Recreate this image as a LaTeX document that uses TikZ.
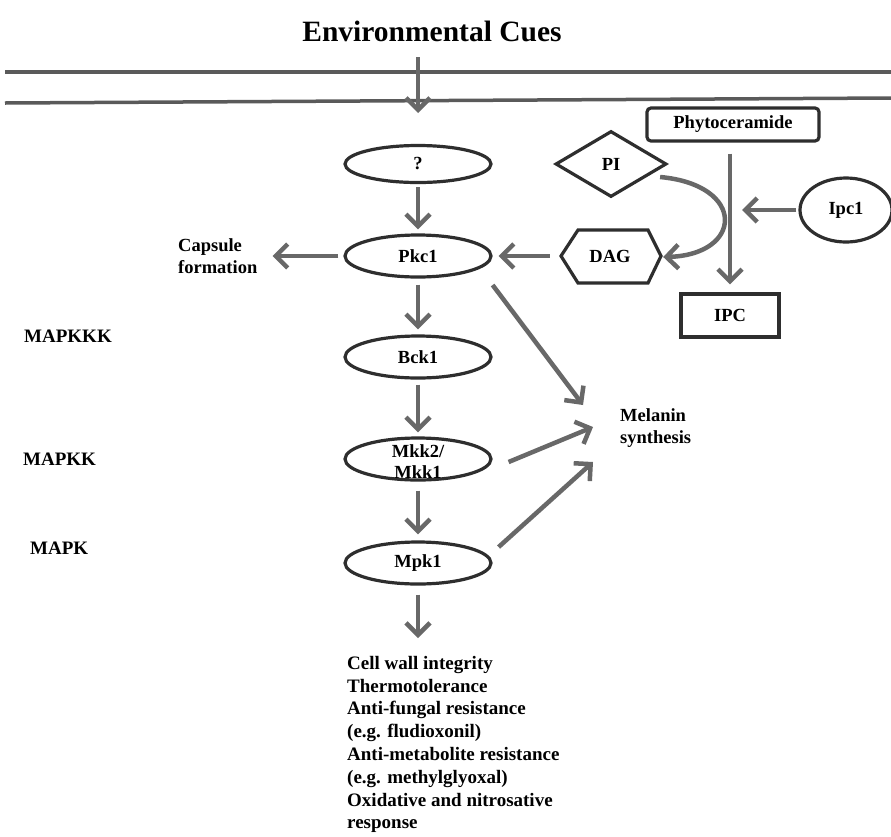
\documentclass[tikz,border=0pt]{standalone}
\usepackage{fontspec}
\setmainfont{Liberation Serif}
\usetikzlibrary{shapes.geometric,arrows.meta,calc}
\definecolor{arrgray}{HTML}{686868}
\definecolor{outl}{HTML}{2E2E2E}
\definecolor{memb}{HTML}{5A5A5A}
\begin{document}
\begin{tikzpicture}[x=1pt,y=-1pt,
  arr/.style={draw=arrgray, line width=4.5pt, -{Straight Barb[length=12pt,width=24pt]}},
  nfont/.style={font=\fontsize{18.5}{21}\selectfont\bfseries},
  ell/.style={ellipse, draw=outl, line width=3.2pt, minimum width=146pt, minimum height=42pt, inner sep=0pt, nfont},
  boxn/.style={rectangle, draw=outl, line width=3.2pt, inner sep=0pt, nfont},
  lbl/.style={inner sep=0pt, anchor=west, align=left, font=\fontsize{19}{22}\selectfont\bfseries},
]
\useasboundingbox (0,0) rectangle (891,836);
\fill[white] (0,0) rectangle (891,836);

% title and membrane
\node[inner sep=0pt, font=\fontsize{29.5}{34}\selectfont\bfseries] (title) at (432,31) {Environmental Cues};
\draw[memb, line width=3.5pt] (5,72) -- (891,72);
\draw[memb, line width=3.5pt] (5,103) -- (891,98);
\coordinate (mtop) at (418,57);
\coordinate (mbot) at (418,113);
\draw[arr] (mtop) -- (mbot);

% main cascade
\node[ell, minimum height=37pt] (q) at (418,164) {?};
\node[ell] (pkc) at (418,256) {Pkc1};
\node[ell] (bck) at (418,357) {Bck1};
\node[ell] (mkk) at (418,459) {};
\node[inner sep=0pt, align=center, nfont] (mkktxt) at (418,462) {Mkk2/\\Mkk1};
\node[ell] (mpk) at (418,563) {Mpk1};

\draw[arr, shorten <=3pt, shorten >=4pt] (q) -- (pkc);
\draw[arr, shorten <=6pt, shorten >=5pt] (pkc) -- (bck);
\draw[arr, shorten <=5pt, shorten >=4pt] (bck) -- (mkk);
\draw[arr, shorten <=9pt, shorten >=6pt] (mkk) -- (mpk);

% outputs
\node[inner sep=0pt, anchor=north west, align=left, font=\fontsize{19}{22.8}\selectfont\bfseries] (out) at (347,656)
  {Cell wall integrity\\Thermotolerance\\Anti-fungal resistance\\(e.g. fludioxonil)\\Anti-metabolite resistance\\(e.g. methylglyoxal)\\Oxidative and nitrosative\\response};
\draw[arr, shorten <=9pt, shorten >=18pt] (mpk) -- (mpk|-out.north);

% left labels
\node[lbl] (l1) at (24,336) {MAPKKK};
\node[lbl] (l2) at (23,459) {MAPKK};
\node[lbl] (l3) at (30,548) {MAPK};
\node[lbl, font=\fontsize{18.5}{22}\selectfont\bfseries] (cap) at (178,256) {Capsule\\formation};
\draw[arr, shorten <=5pt, shorten >=15pt] (pkc.west) -- (cap.east|-pkc.west);

% melanin
\node[lbl, font=\fontsize{18.5}{22}\selectfont\bfseries] (mel) at (620,428) {Melanin\\synthesis};
\coordinate (m1) at (583,405);
\coordinate (m2) at (593,427);
\coordinate (m3) at (593,462);
\draw[arr] ([shift={(0,29)}]pkc.east) -- (m1);
\draw[arr] ([shift={(16,3)}]mkk.east) -- (m2);
\draw[arr] ([shift={(6,-16)}]mpk.east) -- (m3);

% lipid branch
\node[diamond, draw=outl, line width=3.2pt, minimum width=111pt, minimum height=66pt, inner sep=0pt, nfont] (pi) at (611,164) {PI};
\node[rectangle, minimum width=100pt, minimum height=53pt, inner sep=0pt, nfont] (dag) at (610,256) {DAG};
\draw[outl, line width=3.2pt, line join=miter] ([shift={(-49,0)}]dag.center) -- ++(17,-26) -- ++(70,0) -- ++(13,26) -- ++(-13,27) -- ++(-70,0) -- cycle;
\node[boxn, rounded corners=4pt, minimum width=172pt, minimum height=33pt] (phy) at (733,124.5) {Phytoceramide};
\node[boxn, minimum width=98pt, minimum height=43pt] (ipc) at (730,315.5) {IPC};
\node[ell, minimum width=92pt, minimum height=64pt] (ipc1) at (846,210) {Ipc1};

\draw[arr, shorten <=11pt, shorten >=8pt] (ipc|-phy.south) -- (ipc.north);
\draw[arr, shorten <=2pt, shorten >=12pt] (ipc1.west) -- (ipc.north|-ipc1.west);
\draw[arr] ([shift={(-8,13)}]pi.east) .. controls +(87,8) and +(80,-2) .. ([shift={(3,1)}]dag.east);
\draw[arr, shorten <=10pt, shorten >=6pt] (dag.west) -- (pkc.east|-dag.west);
\end{tikzpicture}
\end{document}
